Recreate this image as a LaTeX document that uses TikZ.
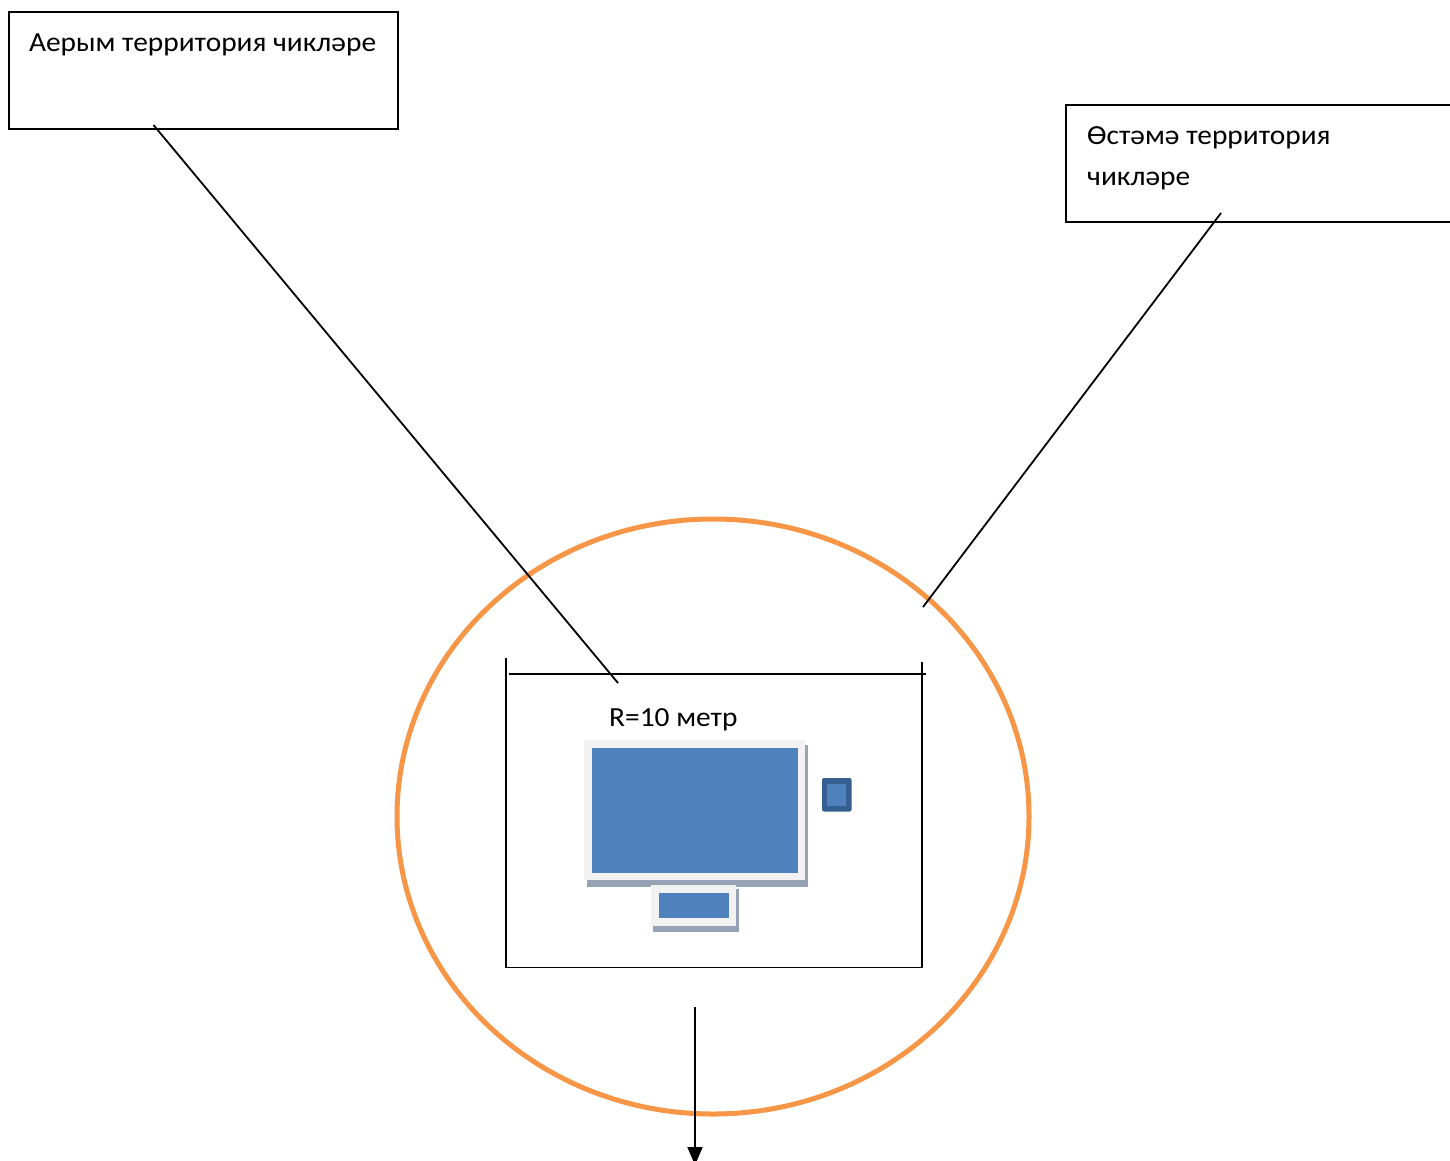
\documentclass[tikz,border=0pt]{standalone}
\usepackage{fontspec}
\setmainfont{Carlito}[FakeStretch=1.065]
\usetikzlibrary{arrows.meta,shapes.geometric}
\definecolor{ringorange}{HTML}{F79646}
\definecolor{screenblue}{HTML}{4F81BD}
\definecolor{framegrey}{HTML}{F2F2F2}
\definecolor{shadowgrey}{HTML}{95A3B5}
\definecolor{tabletblue}{HTML}{355E91}
\tikzset{
  x=1pt,y=-1pt,
  labelbox/.style={draw=black,line width=1.6pt,fill=white,rectangle,inner sep=0pt},
  caption/.style={font=\fontsize{27.6}{30}\selectfont,anchor=base west,inner sep=0pt,text=black},
  thinline/.style={draw=black,line width=1.8pt},
  shadowfill/.style={fill=shadowgrey,draw=none},
  framefill/.style={fill=framegrey,draw=none},
  screenfill/.style={fill=screenblue,draw=none},
  ring/.style={draw=ringorange,line width=5pt,ellipse,inner sep=0pt,minimum width=632pt,minimum height=595pt},
}
\begin{document}
\begin{tikzpicture}
\useasboundingbox (0,0) rectangle (1450,1160);
\clip (0,0) rectangle (1450,1160);
\fill[white] (0,0) rectangle (1450,1160);
% label boxes
\node[labelbox,minimum width=389pt,minimum height=117pt] (boxA) at (203.5,70.5) {};
\node[labelbox,minimum width=404pt,minimum height=117pt] (boxB) at (1268,163.5) {};
\node[caption] (textA) at (29,51) {Аерым территория чикләре};
\node[caption] (textB1) at (1087,144) {Өстәмә территория};
\node[caption] (textB2) at (1087,185) {чикләре};
% ring
\node[ring] (ringshape) at (713,816.5) {};
% room
\coordinate (roomTL) at (506,658);
\coordinate (roomBL) at (506,967.5);
\coordinate (roomBR) at (922,967.5);
\coordinate (roomTR) at (922,662);
\coordinate (wallL) at (509,674);
\coordinate (wallR) at (926,674);
\draw[thinline] (roomTL) -- (roomBL) -- (roomBR) -- (roomTR);
\draw[thinline] (wallL) -- (wallR);
% leaders
\coordinate (leadA) at (153.5,125);
\coordinate (leadAend) at (618,683);
\coordinate (leadB) at (1221,213);
\coordinate (leadBend) at (923,607);
\draw[thinline] (leadA) -- (leadAend);
\draw[thinline] (leadB) -- (leadBend);
% radius label
\node[caption] (rlabel) at (609,726) {R=10 метр};
% monitor
\fill[shadowfill] (586.5,745) rectangle (808,886.5);
\fill[framefill] (584,740) rectangle (805,880);
\fill[screenfill] (592,748) rectangle (797.5,872.5);
% stand
\fill[shadowfill] (652.5,889) rectangle (739,931.5);
\fill[framefill] (651,885) rectangle (736,925.5);
\fill[screenfill] (658.5,893) rectangle (728.5,918);
% tablet
\fill[tabletblue,rounded corners=2pt] (822,778) rectangle (851.5,811.5);
\fill[screenfill] (827,783.5) rectangle (846,806);
% arrow
\coordinate (arrowS) at (695,1007);
\coordinate (arrowE) at (695,1165);
\draw[thinline,-{Triangle[length=18pt,width=15pt]}] (arrowS) -- (arrowE);
\end{tikzpicture}
\end{document}
